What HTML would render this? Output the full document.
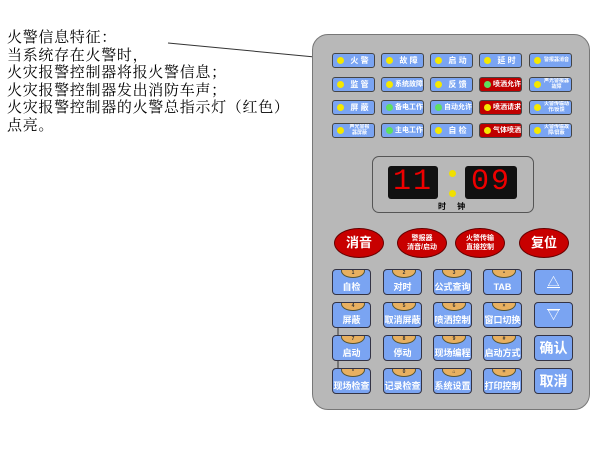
<!DOCTYPE html>
<html><head><meta charset="utf-8"><style>
body{margin:0;width:600px;height:456px;background:#fff;position:relative;overflow:hidden;font-family:"Liberation Serif","Noto Serif CJK SC",serif}
.t{position:absolute;left:7px;font-size:15px;letter-spacing:0.7px;line-height:17.6px;top:30px;color:#000;white-space:pre}
.panel{position:absolute;left:312px;top:34px;width:276px;height:374px;background:#b8b8b8;border:1px solid #777;border-radius:16px}
.b{position:absolute;width:41px;height:13px;background:#7aa4f2;border:1px solid #444;border-radius:3px;color:#fff;font-size:8px;font-weight:bold;line-height:13px;font-family:"Liberation Sans","Noto Sans CJK SC",sans-serif;white-space:nowrap;overflow:hidden}
.b.r{background:#c00000}
.b i{position:absolute;left:4px;top:3px;width:7px;height:7px;border-radius:50%;background:#f5e800}
.b i.g{background:#5ee05e}
.b span{position:absolute;left:13px;right:1px;text-align:center}
.b span.s{font-size:5px;line-height:5.5px;top:1px}
.disp{position:absolute;left:372px;top:156px;width:160px;height:55px;border:1px solid #555;border-radius:7px;background:#b8b8b8}
.dg{position:absolute;top:166px;height:33px;background:#111;border-radius:3px;color:#e00;font-family:"Liberation Mono",monospace;font-size:30px;line-height:33px;text-align:center;letter-spacing:2px}
.dot{position:absolute;width:7px;height:7px;border-radius:50%;background:#f0e000}
.ov{position:absolute;width:48px;height:28px;border-radius:50%;background:#c80000;border:1px solid #600;color:#fff;text-align:center;font-family:"Liberation Sans","Noto Sans CJK SC",sans-serif;font-weight:bold}
.k{position:absolute;width:37px;height:24px;background:#7aa4f2;border:1px solid #334;border-radius:4px;color:#fff;font-size:9px;font-weight:bold;text-align:center;font-family:"Liberation Sans","Noto Sans CJK SC",sans-serif;overflow:hidden}
.k b{position:absolute;left:8px;top:-6px;width:22px;height:12px;border-radius:50%;background:#e8b060;border:1px solid #553;font-size:5px;line-height:17px;color:#333}
.k span{position:absolute;left:0;right:0;top:12px;line-height:11px;white-space:nowrap}
.k2{position:absolute;width:37px;height:24px;background:#7aa4f2;border:1px solid #334;border-radius:4px;color:#fff;text-align:center;font-family:"Liberation Sans","Noto Sans CJK SC",sans-serif;font-weight:bold;font-size:14px;line-height:24px}
</style></head><body>
<div class="t">火警信息特征：
当系统存在火警时，
火灾报警控制器将报火警信息；
火灾报警控制器发出消防车声；
火灾报警控制器的火警总指示灯（红色）
点亮。</div>
<svg style="position:absolute;left:0;top:0" width="600" height="456"><line x1="168" y1="43" x2="336" y2="59" stroke="#333" stroke-width="1"/></svg>
<div class="panel"></div>

<div class="b" style="left:332px;top:53px"><i></i><span>火 警</span></div>
<div class="b" style="left:381px;top:53px"><i></i><span>故 障</span></div>
<div class="b" style="left:430px;top:53px"><i></i><span>启 动</span></div>
<div class="b" style="left:479px;top:53px"><i></i><span>延 时</span></div>
<div class="b" style="left:529px;top:53px"><i></i><span style="font-size:5px">警报器消音</span></div>

<div class="b" style="left:332px;top:77px"><i></i><span>监 管</span></div>
<div class="b" style="left:381px;top:77px"><i></i><span style="font-size:7px">系统故障</span></div>
<div class="b" style="left:430px;top:77px"><i></i><span>反 馈</span></div>
<div class="b r" style="left:479px;top:77px"><i class="g"></i><span style="font-size:7px">喷洒允许</span></div>
<div class="b" style="left:529px;top:77px"><i></i><span class="s">声光警报器<br>故障</span></div>

<div class="b" style="left:332px;top:100px"><i></i><span>屏 蔽</span></div>
<div class="b" style="left:381px;top:100px"><i class="g"></i><span style="font-size:7px">备电工作</span></div>
<div class="b" style="left:430px;top:100px"><i class="g"></i><span style="font-size:7px">自动允许</span></div>
<div class="b r" style="left:479px;top:100px"><i></i><span style="font-size:7px">喷洒请求</span></div>
<div class="b" style="left:529px;top:100px"><i></i><span class="s">火警传输动<br>作/反馈</span></div>

<div class="b" style="left:332px;top:123px"><i></i><span class="s">声光警报<br>器屏蔽</span></div>
<div class="b" style="left:381px;top:123px"><i class="g"></i><span style="font-size:7px">主电工作</span></div>
<div class="b" style="left:430px;top:123px"><i></i><span>自 检</span></div>
<div class="b r" style="left:479px;top:123px"><i></i><span style="font-size:7px">气体喷洒</span></div>
<div class="b" style="left:529px;top:123px"><i></i><span class="s">火警传输故<br>障/屏蔽</span></div>

<div class="disp"></div>
<div class="dg" style="left:388px;width:50px">11</div>
<div class="dg" style="left:465px;width:52px">09</div>
<div class="dot" style="left:449px;top:170px"></div>
<div class="dot" style="left:449px;top:190px"></div>
<div style="position:absolute;left:438px;top:201px;font-size:8px;font-weight:bold;font-family:'Liberation Sans','Noto Sans CJK SC',sans-serif">时&nbsp;&nbsp;&nbsp;&nbsp;&nbsp;钟</div>

<div class="ov" style="left:334px;top:228px;font-size:13px;line-height:28px">消音</div>
<div class="ov" style="left:397px;top:228px;font-size:7px;line-height:9px;padding-top:5px;height:23px">警报器<br>消音/启动</div>
<div class="ov" style="left:455px;top:228px;font-size:7px;line-height:9px;padding-top:5px;height:23px">火警传输<br>直接控制</div>
<div class="ov" style="left:519px;top:228px;font-size:13px;line-height:28px">复位</div>

<svg style="position:absolute;left:0;top:0" width="600" height="456"><line x1="338" y1="327" x2="338" y2="368" stroke="#333"/></svg>

<div class="k" style="left:332px;top:269px"><b>1</b><span>自检</span></div>
<div class="k" style="left:383px;top:269px"><b>2</b><span>对时</span></div>
<div class="k" style="left:433px;top:269px"><b>3</b><span>公式查询</span></div>
<div class="k" style="left:483px;top:269px"><b>•</b><span>TAB</span></div>
<div class="k2" style="left:534px;top:269px;font-size:12px">△<div style="position:absolute;left:12px;top:17px;width:13px;height:1px;background:#fff"></div></div>

<div class="k" style="left:332px;top:302px"><b>4</b><span>屏蔽</span></div>
<div class="k" style="left:383px;top:302px"><b>5</b><span>取消屏蔽</span></div>
<div class="k" style="left:433px;top:302px"><b>6</b><span>喷洒控制</span></div>
<div class="k" style="left:483px;top:302px"><b>×</b><span>窗口切换</span></div>
<div class="k2" style="left:534px;top:302px;font-size:12px">▽<div style="position:absolute;left:12px;top:6px;width:13px;height:1px;background:#fff"></div></div>

<div class="k" style="left:332px;top:335px"><b>7</b><span>启动</span></div>
<div class="k" style="left:383px;top:335px"><b>8</b><span>停动</span></div>
<div class="k" style="left:433px;top:335px"><b>9</b><span>现场编程</span></div>
<div class="k" style="left:483px;top:335px"><b>#</b><span>启动方式</span></div>
<div class="k2" style="left:534px;top:335px">确认</div>

<div class="k" style="left:332px;top:368px"><b>*</b><span>现场检查</span></div>
<div class="k" style="left:383px;top:368px"><b>0</b><span>记录检查</span></div>
<div class="k" style="left:433px;top:368px"><b>⌂</b><span>系统设置</span></div>
<div class="k" style="left:483px;top:368px"><b>=</b><span>打印控制</span></div>
<div class="k2" style="left:534px;top:368px">取消</div>
</body></html>
